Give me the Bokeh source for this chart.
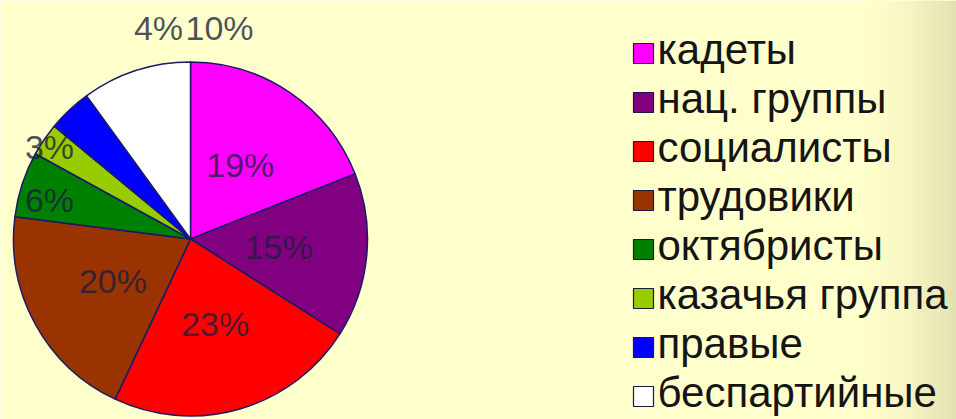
import numpy as np
from bokeh.plotting import figure
from bokeh.models import ColumnDataSource, Range1d
from bokeh.embed import file_html
from bokeh.resources import INLINE
from bokeh.core.properties import value

# ---- data ----
parties = ["кадеты", "нац. группы", "социалисты", "трудовики",
           "октябристы", "казачья группа", "правые", "беспартийные"]
shares = [19, 15, 23, 20, 6, 3, 4, 10]
colors = ["#FF00FF", "#800080", "#FF0000", "#993300",
          "#008000", "#99CC00", "#0000FF", "#FFFFFF"]
labels = [f"{v}%" for v in shares]

# ---- layout (screen px -> data units, 1:1) ----
W, H = 956, 419
def sx(x): return x
def sy(y): return H - y

cx, cy, R = sx(190), sy(238.5), 177
FONT = "Liberation Sans"
BASE_FIX = 0.37  # renderer places alphabetic baseline this many em lower

p = figure(width=W, height=H, output_backend="svg", toolbar_location=None,
           x_range=Range1d(0, W), y_range=Range1d(0, H), min_border=0)
p.axis.visible = False
p.grid.visible = False
p.outline_line_color = None
p.background_fill_color = "#FFFFCC"
p.border_fill_color = "#FFFFCC"

# right-edge background shading (decoration)
n = 40
x0s = np.linspace(sx(860), W, n + 1)
c0 = np.array([255, 255, 204]); c1 = np.array([226, 224, 176])
gcols = []
for i in range(n):
    t = ((i + 0.5) / n) ** 1.6
    c = (c0 + (c1 - c0) * t).astype(int)
    gcols.append("#%02x%02x%02x" % tuple(c))
p.quad(left=x0s[:-1], right=x0s[1:] + 0.5, bottom=0, top=H, fill_color=gcols, line_color=None)

# ---- pie ----
frac = np.array(shares, dtype=float) / sum(shares)
cum = np.concatenate([[0.0], np.cumsum(frac)])
start = np.pi / 2 - cum[:-1] * 2 * np.pi
end = np.pi / 2 - cum[1:] * 2 * np.pi
src = ColumnDataSource(dict(start=start, end=end, color=colors, party=parties))
p.wedge(x=cx, y=cy, radius=R, start_angle="start", end_angle="end", direction="clock",
        fill_color="color", line_color="#1A1A66", line_width=1.5, source=src)

# ---- data labels ----
mid = (cum[:-1] + cum[1:]) / 2 * 2 * np.pi
lx = list(cx + 0.5 * R * np.sin(mid))
ly = list(cy + 0.5 * R * np.cos(mid))
# manual placement for small slices (screen px centers)
manual = {4: (49, 200), 5: (49, 147), 6: (158, 28), 7: (219, 28)}
for i, (mx, my) in manual.items():
    lx[i], ly[i] = sx(mx), sy(my)
LFS = 34
ly_base = [y - 0.358 * LFS + BASE_FIX * LFS for y in ly]
p.text(x=lx, y=ly_base, text=labels, text_font=value(FONT), text_font_size=f"{LFS}px",
       text_align="center", text_baseline="alphabetic", text_color="#1E1E3C", text_alpha=0.78)

# ---- legend ----
GFS = 42
base0, step = 65, 49
leg_base = [sy(base0 + step * i) for i in range(len(parties))]
leg_sq = [b + 12 for b in leg_base]
p.rect(x=sx(643), y=leg_sq, width=20, height=20, fill_color=colors,
       line_color="#1A1A40", line_width=1.2)
p.text(x=sx(657), y=[b + BASE_FIX * GFS for b in leg_base], text=parties,
       text_font=value(FONT), text_font_size=f"{GFS}px",
       text_align="left", text_baseline="alphabetic", text_color="#151515")

open("out.html", "w").write(file_html(p, INLINE))
